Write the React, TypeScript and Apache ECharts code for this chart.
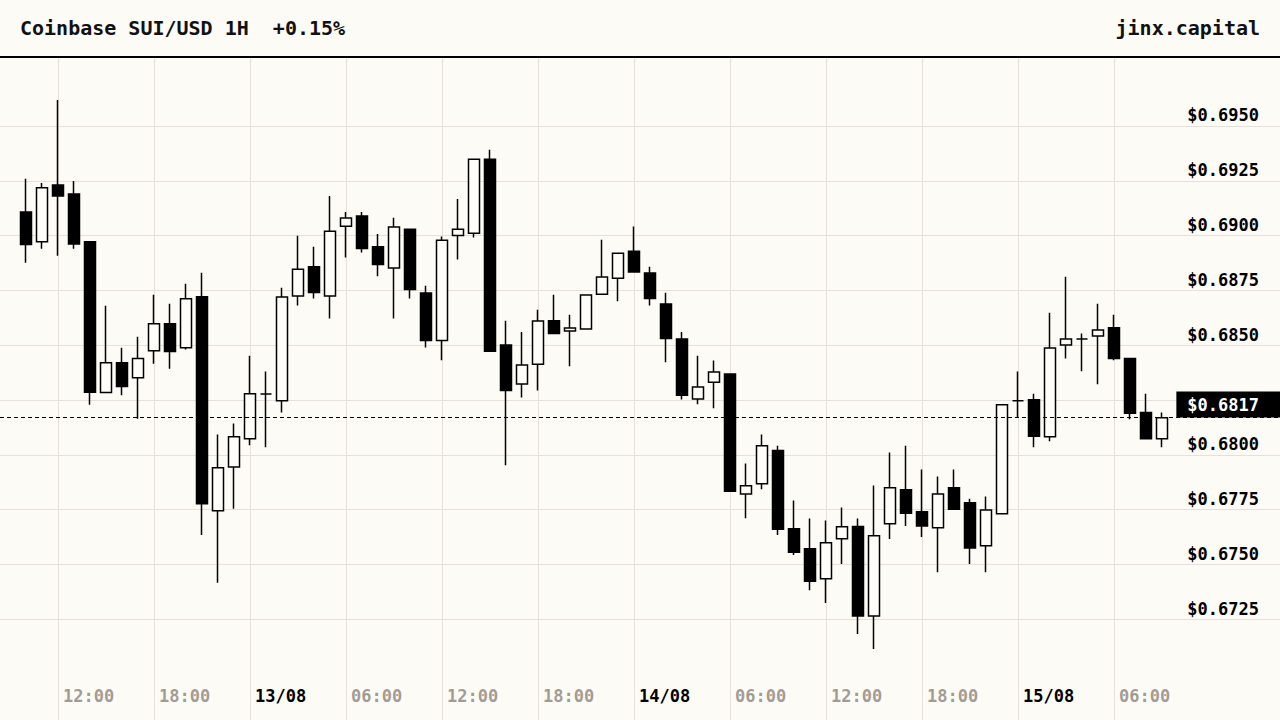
import React, { useEffect, useRef } from "react";
import * as echarts from "echarts";

const FONT = "'DejaVu Sans Mono', monospace";
const BG = "#fdfbf6";
const GRID = "#e5e0d9";

// candle hours, counted from 12/08 00:00 (first candle 12/08 10:00)
const FIRST_HOUR = 10;

const opens = [
  0.69108, 0.68972, 0.69231, 0.6919, 0.68972, 0.68284, 0.6842, 0.68352, 0.68475, 0.68598,
  0.68489, 0.68721, 0.67745, 0.67945, 0.68073, 0.68277, 0.68247, 0.68724, 0.68858, 0.68724,
  0.69043, 0.69089, 0.68949, 0.68852, 0.69029, 0.68738, 0.68522, 0.69, 0.69011, 0.69348,
  0.68501, 0.68323, 0.68413, 0.68612, 0.68565, 0.68574, 0.68733, 0.68806, 0.68929, 0.68829,
  0.68688, 0.68528, 0.68255, 0.68331, 0.68369, 0.67821, 0.67868, 0.6802, 0.67663, 0.67572,
  0.67435, 0.67617, 0.67673, 0.67265, 0.67686, 0.67841, 0.6774, 0.67668, 0.6785, 0.67781,
  0.67586, 0.67731, 0.68247, 0.68251, 0.68082, 0.68501, 0.68528, 0.68542, 0.6858, 0.68439,
  0.68193, 0.68073,
];
const closes = [
  0.68959, 0.69218, 0.69181, 0.68962, 0.68285, 0.6842, 0.68312, 0.68439, 0.68598, 0.68471,
  0.68712, 0.67777, 0.67941, 0.68082, 0.68279, 0.68277, 0.6872, 0.68847, 0.68741, 0.6902,
  0.6908, 0.68941, 0.68868, 0.69039, 0.68754, 0.68522, 0.68979, 0.69029, 0.69348, 0.68472,
  0.68294, 0.6841, 0.6861, 0.68554, 0.68579, 0.68729, 0.68811, 0.6892, 0.68834, 0.68713,
  0.68531, 0.68272, 0.6831, 0.68378, 0.67834, 0.67859, 0.68041, 0.67661, 0.67556, 0.67424,
  0.67599, 0.67672, 0.67265, 0.67631, 0.6785, 0.67734, 0.67675, 0.67822, 0.67752, 0.67575,
  0.67749, 0.68228, 0.68247, 0.68085, 0.68487, 0.68528, 0.68528, 0.68569, 0.6844, 0.6819,
  0.68074, 0.68169,
];
const lows = [
  0.68876, 0.6894, 0.68908, 0.6894, 0.68229, 0.68284, 0.68272, 0.68165, 0.68416, 0.68393,
  0.6848, 0.67634, 0.67417, 0.67754, 0.68044, 0.68035, 0.68193, 0.68681, 0.68713, 0.68622,
  0.689, 0.68923, 0.68814, 0.68622, 0.68713, 0.6849, 0.68431, 0.68891, 0.68991, 0.68472,
  0.67953, 0.68262, 0.68294, 0.68554, 0.68404, 0.68574, 0.68733, 0.687, 0.68834, 0.68681,
  0.68422, 0.68253, 0.68231, 0.68212, 0.67834, 0.67711, 0.67843, 0.67634, 0.67543, 0.67383,
  0.67324, 0.67502, 0.67183, 0.67115, 0.67616, 0.67675, 0.67625, 0.67465, 0.67752, 0.67502,
  0.67465, 0.67731, 0.68169, 0.68035, 0.68062, 0.6844, 0.68381, 0.68322, 0.68431, 0.68162,
  0.6807, 0.68035,
];
const highs = [
  0.69259, 0.6924, 0.69618, 0.69249, 0.68972, 0.6868, 0.68489, 0.68539, 0.6873, 0.68689,
  0.6878, 0.6883, 0.68093, 0.68143, 0.68452, 0.6838, 0.68762, 0.68999, 0.68949, 0.69181,
  0.69108, 0.69108, 0.69007, 0.69081, 0.69029, 0.68771, 0.68996, 0.69167, 0.69348, 0.69391,
  0.68612, 0.6856, 0.68662, 0.6873, 0.68639, 0.68729, 0.68981, 0.6892, 0.69041, 0.68858,
  0.68739, 0.6856, 0.68452, 0.6843, 0.68369, 0.6796, 0.68093, 0.68042, 0.67792, 0.6771,
  0.67701, 0.6776, 0.6771, 0.6786, 0.68011, 0.68042, 0.67933, 0.67901, 0.67933, 0.678,
  0.6781, 0.68228, 0.6838, 0.68279, 0.68648, 0.68812, 0.68553, 0.68689, 0.68639, 0.68439,
  0.68279, 0.68193,
];

const LAST_PRICE = 0.6817;

const labelFont = {
  fontFamily: FONT,
  fontWeight: "bold" as const,
  fontSize: 17,
};

const timeLabel = (t: number) => {
  const day = 12 + Math.floor(t / 24);
  const hour = t % 24;
  if (hour % 6 !== 0) return "";
  if (hour === 0) return `{d|${day}/08}`;
  return `{h|${String(hour).padStart(2, "0")}:00}`;
};

// price labels hide behind the last-price tag
const priceLabel = (v: number) =>
  Math.abs(v - LAST_PRICE) < 0.0012 ? "" : "$" + v.toFixed(4);

export default function App() {
  const chartRef = useRef<HTMLDivElement>(null);

  useEffect(() => {
    if (!chartRef.current) return;
    const chart = echarts.init(chartRef.current, null, { renderer: "svg" });
    const candles = opens.map((o, i) => [FIRST_HOUR + i, o, closes[i], lows[i], highs[i]]);

    chart.setOption({
      animation: false,
      backgroundColor: BG,
      textStyle: { fontFamily: FONT },
      title: [
        {
          text: "Coinbase SUI/USD 1H  +0.15%",
          left: 20,
          top: 18,
          padding: 0,
          textStyle: { fontFamily: FONT, fontWeight: "bold", fontSize: 20, color: "#111" },
        },
        {
          text: "jinx.capital",
          right: 20,
          top: 18,
          padding: 0,
          textStyle: { fontFamily: FONT, fontWeight: "bold", fontSize: 20, color: "#111" },
        },
      ],
      graphic: [
        {
          type: "line",
          shape: { x1: 0, y1: 57, x2: 1280, y2: 57 },
          style: { stroke: "#000", lineWidth: 2 },
          z: 10,
        },
      ],
      grid: [
        // price pane: 16px per hour, full width
        { left: 0, right: 0, top: 90, bottom: 100.7 },
        // time grid, starts at the 12/08 12:00 line
        { left: 58, right: 80, top: 58, bottom: 0 },
      ],
      xAxis: [
        { type: "value", gridIndex: 0, min: 8.375, max: 88.375, show: false },
        {
          type: "value",
          gridIndex: 1,
          min: 12,
          max: 83.375,
          interval: 6,
          axisLine: { show: false },
          axisTick: { show: false },
          splitLine: {
            show: true,
            showMinLine: true,
            showMaxLine: false,
            lineStyle: { color: GRID, width: 1 },
          },
          axisLabel: {
            inside: true,
            margin: 16,
            align: "left",
            padding: [0, 0, 0, 5],
            showMinLabel: true,
            showMaxLabel: false,
            formatter: (v: number) => timeLabel(v),
            rich: {
              d: { ...labelFont, color: "#000" },
              h: { ...labelFont, color: "#a39c94" },
            },
          },
        },
      ],
      yAxis: [
        {
          type: "value",
          gridIndex: 0,
          position: "right",
          min: 0.6725,
          max: 0.69664,
          interval: 0.0025,
          axisLine: { show: false },
          axisTick: { show: false },
          splitLine: {
            show: true,
            showMaxLine: false,
            lineStyle: { color: GRID, width: 1 },
          },
          axisLabel: {
            inside: true,
            margin: 21,
            verticalAlign: "bottom",
            padding: [0, 0, 2, 0],
            showMaxLabel: false,
            showMinLabel: true,
            ...labelFont,
            color: "#000",
            formatter: priceLabel,
          },
        },
        { type: "value", gridIndex: 1, show: false },
      ],
      series: [
        {
          type: "candlestick",
          xAxisIndex: 0,
          yAxisIndex: 0,
          data: candles,
          encode: { x: 0, y: [1, 2, 3, 4] },
          barWidth: 12,
          clip: false,
          itemStyle: {
            color: "#fffdf8",
            color0: "#000",
            borderColor: "#000",
            borderColor0: "#000",
            borderWidth: 1.5,
          },
          emphasis: { disabled: true },
          markLine: {
            silent: true,
            precision: 4,
            symbol: ["none", "none"],
            lineStyle: { color: "#000", width: 1, type: [4, 3] },
            label: {
              show: true,
              position: "insideEndTop",
              distance: 0,
              formatter: () => "$" + LAST_PRICE.toFixed(4),
              backgroundColor: "#000",
              color: "#fff",
              padding: [5, 21, 4, 11],
              ...labelFont,
            },
            emphasis: { disabled: true },
            data: [{ yAxis: LAST_PRICE }],
          },
        },
      ],
    });

    return () => {
      chart.dispose();
    };
  }, []);

  return (
    <div
      ref={chartRef}
      style={{ position: "fixed", left: 0, top: 0, width: 1280, height: 720, background: BG }}
    />
  );
}
